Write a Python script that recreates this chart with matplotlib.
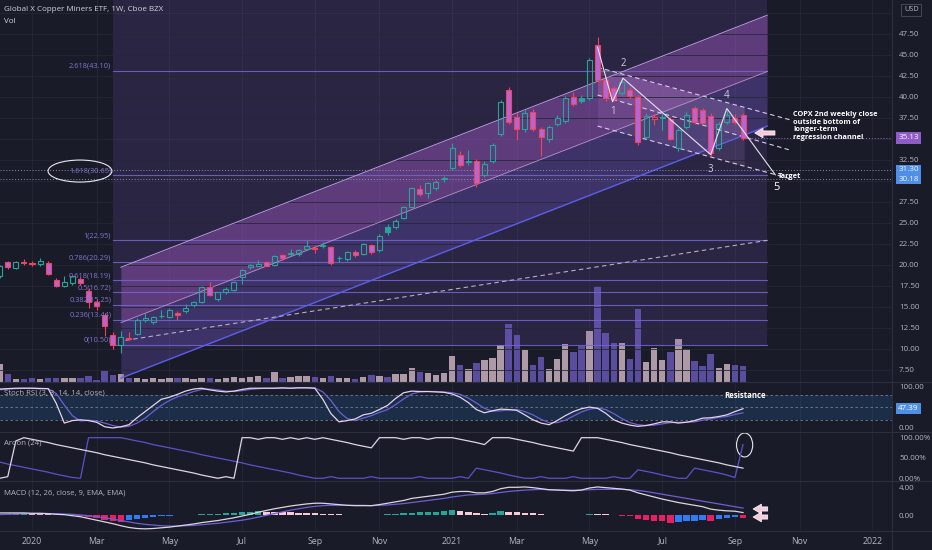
import matplotlib
matplotlib.use("Agg")
import matplotlib.pyplot as plt
from matplotlib.patches import Ellipse
from matplotlib.lines import Line2D
from matplotlib import transforms
import numpy as np
import pandas as pd

plt.rcParams["font.family"] = ["Open Sans", "DejaVu Sans"]

# ---- weekly bars, 2019-12-09 .. 2021-09-13 ----
first_bar = "2019-12-09"

opens = [18.6, 20.3, 19.6, 20.3, 20.2, 20.1, 20.2, 18.2, 17.5, 17.8,
         18.3, 16.9, 15.6, 14.0, 11.6, 10.4, 11.3, 11.75, 13.4, 13.2,
         13.85, 13.8, 14.3, 14.5, 15.2, 15.6, 17.4, 15.9, 16.7, 17.0,
         18.5, 19.7, 19.9, 20.3, 20.0, 21.1, 21.25, 21.3, 21.9, 22.0,
         22.2, 22.1, 20.75, 20.7, 21.5, 21.3, 22.3, 21.7, 24.5, 24.5,
         25.6, 26.9, 29.0, 28.5, 29.1, 30.2, 31.5, 33.1, 32.25, 32.4,
         30.7, 32.3, 35.6, 40.8, 37.6, 36.1, 38.2, 36.2, 35.0, 36.8,
         37.1, 40.0, 39.9, 39.8, 46.2, 42.0, 41.0, 40.4, 40.8, 40.0,
         35.2, 37.4, 37.45, 37.3, 33.9, 36.4, 38.6, 38.4, 37.7, 33.9,
         37.0, 37.5, 37.8]
highs = [20.0, 20.5, 20.4, 20.7, 20.4, 20.8, 20.4, 18.4, 18.6, 18.7,
         18.5, 17.2, 15.9, 14.3, 12.0, 12.1, 12.0, 13.6, 14.2, 13.9,
         14.6, 14.8, 14.5, 15.3, 15.7, 17.5, 17.9, 16.8, 17.3, 18.1,
         19.5, 20.1, 20.6, 20.5, 21.1, 21.3, 21.9, 21.9, 22.9, 22.4,
         22.7, 22.2, 21.0, 21.6, 21.7, 22.6, 22.5, 23.6, 24.8, 25.4,
         27.0, 29.3, 29.5, 29.9, 30.1, 30.6, 34.5, 33.5, 33.7, 32.6,
         32.3, 34.5, 39.6, 41.2, 38.0, 38.4, 38.5, 36.4, 36.6, 37.8,
         40.1, 40.6, 40.2, 44.6, 47.1, 42.5, 41.3, 42.3, 41.1, 40.2,
         38.0, 37.9, 38.0, 37.6, 36.3, 38.2, 38.9, 38.6, 38.0, 37.0,
         38.4, 37.9, 38.0]
lows = [18.4, 19.5, 19.5, 20.0, 19.9, 19.9, 18.8, 17.4, 17.3, 17.6,
        17.6, 14.8, 14.6, 11.5, 10.0, 9.5, 11.0, 11.6, 13.2, 12.9,
        13.6, 13.6, 13.4, 14.3, 15.0, 15.5, 16.3, 15.7, 16.5, 16.9,
        17.7, 19.5, 19.8, 19.8, 19.9, 20.6, 21.0, 21.0, 21.7, 21.4,
        22.0, 20.0, 20.3, 20.5, 20.9, 21.1, 21.3, 21.5, 23.5, 24.3,
        25.4, 26.7, 28.2, 27.9, 28.9, 29.9, 31.3, 31.6, 31.9, 29.2,
        30.5, 32.1, 35.3, 36.8, 34.9, 35.8, 35.9, 32.9, 34.6, 36.5,
        36.9, 38.9, 39.3, 39.6, 41.8, 39.5, 39.5, 40.2, 39.9, 34.3,
        35.0, 36.6, 36.0, 34.8, 33.5, 36.1, 36.8, 36.7, 32.9, 33.6,
        36.8, 36.8, 34.9]
closes = [19.8, 19.7, 20.3, 20.2, 20.1, 20.5, 18.9, 17.5, 17.9, 18.6,
          17.8, 15.6, 15.1, 12.7, 10.4, 11.4, 11.2, 13.4, 13.7, 13.8,
          13.95, 14.6, 14.0, 14.8, 15.6, 17.4, 16.4, 16.7, 17.1, 18.0,
          19.4, 19.95, 20.1, 19.9, 21.0, 20.8, 21.35, 21.8, 22.2, 21.9,
          22.4, 20.2, 20.85, 21.5, 21.1, 22.5, 21.5, 23.4, 23.9, 25.2,
          26.9, 29.1, 28.4, 29.7, 29.9, 30.35, 33.9, 31.9, 32.35, 29.7,
          32.0, 34.2, 39.4, 37.0, 36.2, 38.1, 36.1, 35.2, 36.4, 37.5,
          39.8, 39.1, 39.5, 44.4, 42.0, 39.8, 39.7, 41.8, 40.1, 34.6,
          37.7, 37.55, 37.55, 35.0, 36.0, 37.8, 37.0, 36.9, 33.3, 36.8,
          37.8, 37.0, 35.13]
volume_m = [1.8, 0.8, 0.3, 0.3, 0.4, 0.3, 0.4, 0.4, 0.4, 0.4,
            0.4, 0.6, 0.2, 1.1, 0.7, 0.8, 0.4, 0.4, 0.3, 0.4,
            0.3, 0.4, 0.4, 0.4, 0.3, 0.4, 0.4, 0.3, 0.4, 0.5,
            0.4, 0.5, 0.6, 0.4, 1.0, 0.4, 0.5, 0.6, 0.6, 0.5,
            0.4, 0.6, 0.4, 0.4, 0.3, 0.5, 0.7, 0.6, 0.5, 0.8,
            0.8, 1.4, 1.0, 0.9, 0.7, 0.9, 2.6, 1.7, 1.3, 1.9,
            2.2, 2.4, 3.7, 5.8, 4.7, 3.2, 1.7, 2.5, 1.3, 2.3,
            3.8, 3.0, 3.6, 5.1, 9.6, 4.9, 3.9, 3.9, 2.3, 7.3,
            2.0, 3.4, 2.2, 3.0, 4.3, 3.3, 2.1, 1.6, 2.8, 1.4,
            1.8, 1.7, 1.6]

stoch_k = [95, 96, 97, 97, 97, 96, 96, 60, 12, 18,
           20, 18, 14, 3, 0, 3, 8, 25, 40, 55,
           70, 75, 82, 90, 95, 97, 93, 90, 88, 90,
           94, 97, 97, 97, 97, 98, 97, 98, 98, 97,
           70, 35, 15, 18, 22, 32, 36, 45, 55, 72,
           86, 90, 89, 89, 88, 87, 83, 75, 62, 45,
           37, 42, 46, 45, 43, 32, 20, 12, 8, 18,
           30, 40, 47, 51, 48, 36, 20, 12, 7, 4,
           6, 10, 15, 15, 12, 14, 18, 24, 25, 28,
           32, 40, 47]
stoch_d = [93, 95, 96, 97, 97, 97, 96, 84, 56, 30,
           17, 19, 17, 12, 6, 2, 4, 12, 24, 40,
           55, 67, 76, 82, 89, 94, 95, 93, 90, 89,
           91, 94, 96, 97, 97, 97, 97, 98, 98, 98,
           88, 67, 40, 23, 18, 24, 30, 38, 45, 57,
           71, 83, 88, 89, 89, 88, 86, 82, 73, 61,
           48, 41, 42, 44, 45, 40, 32, 21, 13, 13,
           19, 29, 39, 46, 49, 45, 35, 23, 13, 8,
           6, 7, 10, 13, 14, 14, 15, 19, 22, 26,
           28, 33, 37]
aroon_up = [0, 4, 92, 100, 96, 92, 88, 83, 79, 75,
            71, 67, 63, 58, 54, 50, 46, 42, 38, 33,
            29, 25, 21, 17, 13, 8, 4, 0, 4, 0,
            100, 100, 96, 100, 100, 96, 100, 96, 100, 96,
            100, 96, 92, 88, 83, 79, 75, 100, 100, 100,
            96, 100, 100, 96, 100, 100, 100, 96, 92, 88,
            83, 100, 100, 100, 96, 92, 88, 83, 79, 75,
            71, 67, 100, 100, 100, 96, 92, 88, 83, 79,
            75, 71, 67, 63, 58, 54, 50, 46, 42, 38,
            33, 29, 25]
aroon_down = [40, 35, 31, 27, 23, 19, 15, 10, 6, 2,
              0, 100, 100, 100, 100, 100, 96, 92, 88, 83,
              79, 75, 71, 67, 63, 58, 54, 50, 46, 42,
              38, 33, 29, 25, 21, 17, 13, 8, 4, 0,
              0, 4, 0, 0, 0, 0, 4, 0, 0, 0,
              0, 0, 4, 0, 0, 0, 0, 4, 0, 25,
              21, 17, 13, 8, 4, 0, 0, 4, 0, 0,
              0, 4, 0, 0, 0, 0, 4, 0, 0, 21,
              17, 13, 8, 4, 0, 0, 25, 21, 17, 13,
              8, 2, 83]
macd_line = [0.3, 0.3, 0.3, 0.3, 0.25, 0.25, 0.2, 0.1, 0.05, -0.1,
             -0.25, -0.5, -0.75, -1.0, -1.25, -1.55, -1.8, -1.95, -2.0, -1.95,
             -1.85, -1.75, -1.6, -1.45, -1.3, -1.1, -0.95, -0.8, -0.6, -0.4,
             -0.15, 0.1, 0.4, 0.65, 0.9, 1.1, 1.3, 1.45, 1.6, 1.7,
             1.7, 1.6, 1.5, 1.4, 1.35, 1.35, 1.35, 1.5, 1.7, 1.9,
             2.1, 2.4, 2.55, 2.7, 2.85, 3.0, 3.3, 3.4, 3.4, 3.2,
             3.2, 3.4, 3.8, 4.0, 4.0, 4.05, 3.95, 3.8, 3.65, 3.6,
             3.55, 3.5, 3.6, 3.9, 4.05, 3.95, 3.85, 3.75, 3.6, 3.2,
             2.9, 2.6, 2.3, 2.05, 1.8, 1.6, 1.4, 1.2, 0.85, 0.7,
             0.6, 0.55, 0.35]
macd_signal = [0.05, 0.1, 0.15, 0.2, 0.2, 0.2, 0.2, 0.2, 0.15, 0.1,
               0.0, -0.1, -0.25, -0.4, -0.6, -0.8, -1.0, -1.2, -1.35, -1.45,
               -1.55, -1.6, -1.6, -1.55, -1.5, -1.4, -1.3, -1.2, -1.05, -0.9,
               -0.75, -0.55, -0.3, -0.05, 0.2, 0.45, 0.7, 0.9, 1.1, 1.25,
               1.35, 1.4, 1.4, 1.4, 1.4, 1.4, 1.35, 1.4, 1.45, 1.55,
               1.65, 1.8, 1.95, 2.1, 2.25, 2.4, 2.6, 2.75, 2.9, 2.95,
               3.0, 3.1, 3.25, 3.4, 3.5, 3.6, 3.65, 3.7, 3.65, 3.65,
               3.6, 3.6, 3.6, 3.65, 3.7, 3.7, 3.7, 3.7, 3.65, 3.55,
               3.4, 3.2, 3.0, 2.8, 2.6, 2.4, 2.2, 2.0, 1.8, 1.6,
               1.4, 1.2, 1.0]
macd_hist = [0.12, 0.16, 0.2, 0.22, 0.18, 0.15, 0.1, 0.05, 0.02, -0.05,
             -0.15, -0.3, -0.5, -0.7, -0.8, -0.95, -0.75, -0.6, -0.45, -0.3,
             -0.2, -0.1, -0.05, 0.03, 0.06, 0.1, 0.15, 0.2, 0.25, 0.35,
             0.45, 0.5, 0.6, 0.5, 0.45, 0.42, 0.4, 0.35, 0.3, 0.25,
             0.2, 0.12, 0.08, 0.03, -0.02, -0.03, 0.02, 0.05, 0.1, 0.15,
             0.25, 0.35, 0.4, 0.45, 0.5, 0.55, 0.7, 0.6, 0.5, 0.35,
             0.2, 0.3, 0.55, 0.5, 0.45, 0.35, 0.25, 0.1, 0.05, 0.03,
             0.02, -0.03, 0.0, 0.2, 0.15, 0.1, 0.05, -0.1, -0.15, -0.55,
             -0.75, -0.8, -0.85, -1.1, -1.05, -0.9, -0.8, -0.7, -0.85, -0.55,
             -0.45, -0.35, -0.45]

# ---- drawings ----
fib_ratios = ["0", "0.236", "0.382", "0.5", "0.618", "0.786", "1", "1.618", "2.618"]
fib_prices = [10.50, 13.44, 15.25, 16.72, 18.19, 20.29, 22.95, 30.65, 43.10]
fib_span = ["2020-03-16", "2021-10-04"]

channel_span = ["2020-03-23", "2021-10-04"]
channel_top = [19.7, 49.7]
channel_mid = [13.1, 43.0]
channel_bot = [6.5, 36.5]

trend_span = ["2020-03-27", "2021-10-04"]
trend_prices = [11.0, 22.9]

down_span = ["2021-05-10", "2021-10-25"]
down_fill_end = "2021-09-14"
down_top = [43.5, 37.2]
down_mid = [40.2, 33.6]
down_bot = [36.5, 30.2]

wave_dates = ["2021-05-10", "2021-05-23", "2021-06-01", "2021-08-16", "2021-08-30", "2021-10-11"]
wave_prices = [45.9, 39.4, 42.2, 33.1, 38.6, 30.7]
wave_names = ["1", "2", "3", "4"]
wave_name_dates = ["2021-05-23", "2021-06-01", "2021-08-16", "2021-08-30"]
wave_name_prices = [38.2, 44.0, 31.3, 40.1]

last_price = 35.13
level_lines = [31.30, 30.18]

# ---- colours ----
BG = "#1a1b29"
GRID = "#252838"
SEP = "#2c2f3d"
TXT = "#b2b5be"
TEAL = "#26a69a"
RED = "#f0445a"
DOWN_FILL = "#b565d6"
FIB = "#7466d0"

origin = pd.Timestamp("2020-01-06")


def wk(d):
    return (pd.Timestamp(d) - origin).days / 7


weeks = pd.date_range(first_bar, periods=len(closes), freq="W-MON")
xs = np.asarray((weeks - origin).days / 7, dtype=float)
o, h, l, c = (np.array(a, dtype=float) for a in (opens, highs, lows, closes))

W, H = 932, 550
fig = plt.figure(figsize=(W / 100, H / 100), dpi=100, facecolor=BG)


def box(top, bottom):
    return [0, 1 - bottom / H, 892 / W, (bottom - top) / H]


ax_v = fig.add_axes(box(0, 382))
ax = fig.add_axes(box(0, 382), sharex=ax_v)
ax_st = fig.add_axes(box(382, 432), sharex=ax_v)
ax_ar = fig.add_axes(box(432, 481), sharex=ax_v)
ax_md = fig.add_axes(box(481, 531), sharex=ax_v)

for a in (ax_v, ax, ax_st, ax_ar, ax_md):
    a.set_facecolor(BG)
    for s in a.spines.values():
        s.set_visible(False)
    a.tick_params(length=0, labelsize=5.8, labelcolor=TXT)
ax.patch.set_visible(False)
ax_v.set_yticks([])

ax.set_xlim(-3.96, 106.44)
ax.set_ylim(6.04, 51.51)
ax_v.set_ylim(0, 38.2)
ax_st.set_ylim(-9.8, 112.2)
ax_ar.set_ylim(-6.7, 114)
ax_md.set_ylim(-2.31, 4.91)

# month ticks at the first weekly bar of every other month
cal = pd.date_range(first_bar, "2022-02-28", freq="W-MON")
tick_x, tick_lab, seen = [], [], set()
for d in cal:
    if d.month % 2 == 1 and (d.year, d.month) not in seen:
        seen.add((d.year, d.month))
        tick_x.append(wk(d))
        tick_lab.append(str(d.year) if d.month == 1 else d.strftime("%b"))

for a in (ax_v, ax_st, ax_ar, ax_md):
    a.set_xticks(tick_x)
    a.grid(axis="x", color=GRID, lw=0.6)
    a.set_axisbelow(True)
for a in (ax_v, ax, ax_st, ax_ar):
    a.tick_params(labelbottom=False)
ax_md.set_xticklabels(tick_lab)
ax_md.tick_params(axis="x", labelsize=6.3, pad=4)

# price axis (50.00 sits under the USD badge, 30/35 under the price badges)
price_ticks = [p for p in np.arange(7.5, 47.6, 2.5) if p not in (30.0, 35.0)]
ax.yaxis.tick_right()
ax.set_yticks(price_ticks)
ax.set_yticklabels([f"{p:.2f}" for p in price_ticks])
ax.tick_params(axis="y", pad=5)
ax.grid(axis="y", color=GRID, lw=0.6)
for p in (30.0, 35.0, 50.0):
    ax.axhline(p, color=GRID, lw=0.6, zorder=0)

# volume
vol_col = np.where(c >= o, "#ad9aa6", "#5a4d9e")
ax_v.bar(xs, volume_m, width=0.8, color=vol_col, zorder=2)

# fib retracement
f0, f1 = wk(fib_span[0]), wk(fib_span[1])
ax.fill_between([f0, f1], fib_prices[0], 56, color="#7b5cc4", alpha=0.17, lw=0, zorder=1)
for r, p in zip(fib_ratios, fib_prices):
    ax.plot([f0, f1], [p, p], color=FIB, lw=0.8, alpha=0.85, zorder=2)
    ax.text(f0 - 0.2, p + 0.1, f"{r}({p:.2f})", color="#7f76cc", fontsize=5.3,
            ha="right", va="bottom", zorder=6)

# regression channel
c0, c1 = wk(channel_span[0]), wk(channel_span[1])
ax.fill_between([c0, c1], channel_mid, channel_top, color="#a85ccc", alpha=0.42, lw=0, zorder=1)
ax.fill_between([c0, c1], channel_bot, channel_mid, color="#6a52b8", alpha=0.32, lw=0, zorder=1)
ax.plot([c0, c1], channel_top, color="#b89adf", lw=0.7, zorder=2)
ax.plot([c0, c1], channel_mid, color="#c7a4e0", lw=0.6, alpha=0.8, zorder=2)
ax.plot([c0, c1], channel_bot, color="#5c5ee8", lw=1.0, zorder=2)
ax.plot([wk(trend_span[0]), wk(trend_span[1])], trend_prices, color="#b7adc8",
        lw=0.8, ls=(0, (4, 3)), zorder=3)

# down channel
d0, d1, df = wk(down_span[0]), wk(down_span[1]), wk(down_fill_end)
tops_f = [down_top[0], np.interp(df, [d0, d1], down_top)]
mids_f = [down_mid[0], np.interp(df, [d0, d1], down_mid)]
bots_f = [down_bot[0], np.interp(df, [d0, d1], down_bot)]
ax.fill_between([d0, df], mids_f, tops_f, color="#e0a8f0", alpha=0.2, lw=0, zorder=1)
ax.fill_between([d0, df], bots_f, mids_f, color="#c090e0", alpha=0.14, lw=0, zorder=1)
for line in (down_top, down_mid, down_bot):
    ax.plot([d0, d1], line, color="#d8cce8", lw=0.8, ls=(0, (4, 3)), zorder=3)

# price lines
ax.plot([xs[-1], 107], [last_price, last_price], color="#9c6ad0", lw=0.7, ls=(0, (1, 2)), zorder=3)
for p in level_lines:
    ax.axhline(p, color="#8f93b0", lw=0.7, ls=(0, (1, 2)), zorder=3)

# candles
prev_c = np.r_[o[0], c[:-1]]
edge = np.where(c >= prev_c, TEAL, RED)
face = np.where(c >= o, "none", np.where(c >= prev_c, TEAL, DOWN_FILL))
body_lo, body_hi = np.minimum(o, c), np.maximum(o, c)
ax.vlines(xs, l, body_lo, color=edge, lw=0.8, zorder=4)
ax.vlines(xs, body_hi, h, color=edge, lw=0.8, zorder=4)
ax.bar(xs, np.maximum(body_hi - body_lo, 0.06), bottom=body_lo, width=0.62,
       color=face, edgecolor=edge, lw=0.8, zorder=5)

# elliott wave
ax.plot([wk(d) for d in wave_dates], wave_prices, color="#e6e2ee", lw=0.8, zorder=6)
for n, d, p in zip(wave_names, wave_name_dates, wave_name_prices):
    ax.text(wk(d), p, n, color="#cfcbe0", fontsize=7, ha="center", va="center", zorder=7)
ax.text(wk("2021-10-11") + 0.2, 29.25, "5", color="white", fontsize=8, ha="center",
        va="center", zorder=7)
ax.text(wk("2021-10-11") + 0.3, 30.55, "Target", color="white", fontsize=5.3,
        fontweight="bold", ha="left", va="center", zorder=7)
ax.text(wk("2021-10-25") + 0.2, 38.3,
        "COPX 2nd weekly close\noutside bottom of\nlonger-term\nregression channel",
        color="white", fontsize=5.3, fontweight="bold", ha="left", va="top",
        linespacing=1.15, zorder=7)
ax.annotate("", xy=(wk("2021-09-20") + 0.1, 35.68), xytext=(wk("2021-10-11") + 0.3, 35.68),
            arrowprops=dict(arrowstyle="simple,head_width=0.7,head_length=0.6,tail_width=0.3",
                            fc="#f6cadb", ec="white", lw=0.5), zorder=7)
ax.add_patch(Ellipse((5.94, 31.15), 7.9, 2.62, fill=False, ec="#e8e8ee", lw=0.8, zorder=7))

# axis label boxes
blend = transforms.blended_transform_factory(ax.transAxes, ax.transData)
ax.text(1.007, last_price, f"{last_price:.2f}", transform=blend, color="white", fontsize=5.8,
        va="center", ha="left", clip_on=False,
        bbox=dict(boxstyle="square,pad=0.3", fc="#8e5bc9", ec="none"))
for p in level_lines:
    ax.text(1.007, p, f"{p:.2f}", transform=blend, color="#eef3ff", fontsize=5.8,
            va="center", ha="left", clip_on=False,
            bbox=dict(boxstyle="square,pad=0.22", fc="#4f8fe6", ec="none"))
ax.text(1.0135, 0.974, "USD", transform=ax.transAxes, color=TXT, fontsize=5.3, va="center",
        ha="left", clip_on=False, zorder=8,
        bbox=dict(boxstyle="square,pad=0.35", fc=BG, ec="#4a4e5c", lw=0.6))

ax.text(0.005, 0.974, "Global X Copper Miners ETF, 1W, Cboe BZX", transform=ax.transAxes,
        color="#d1d4dc", fontsize=5.8, va="center")
ax.text(0.005, 0.945, "Vol", transform=ax.transAxes, color="#d1d4dc", fontsize=5.8, va="center")

# stoch rsi
ax_st.axhspan(20, 80, color="#2196f3", alpha=0.15, lw=0)
for lv in (80, 50, 20):
    ax_st.axhline(lv, color="#787b86", lw=0.6, ls=(0, (3, 3)))
ax_st.plot(xs, stoch_d, color="#6d5fd6", lw=0.9)
ax_st.plot(xs, stoch_k, color="#e6d3ec", lw=0.9)
ax_st.yaxis.tick_right()
ax_st.set_yticks([0, 100])
ax_st.set_yticklabels(["0.00", "100.00"])
ax_st.tick_params(axis="y", pad=5)
bst = transforms.blended_transform_factory(ax_st.transAxes, ax_st.transData)
ax_st.text(1.007, 47.39, "47.39", transform=bst, color="white", fontsize=5.8, va="center",
           ha="left", clip_on=False, bbox=dict(boxstyle="square,pad=0.3", fc="#4f8fe6", ec="none"))
ax_st.text(0.005, 0.78, "Stoch RSI (3, 3, 14, 14, close)", transform=ax_st.transAxes,
           color=TXT, fontsize=5.6, va="center")
ax_st.text(wk("2021-09-13") + 0.3, 80, "Resistance", color="white", fontsize=5.6,
           fontweight="bold", ha="center", va="center")

# aroon
ax_ar.plot(xs, aroon_down, color="#5a52c8", lw=0.9)
ax_ar.plot(xs, aroon_up, color="#ddd6e6", lw=0.9)
ax_ar.yaxis.tick_right()
ax_ar.set_yticks([0, 50, 100])
ax_ar.set_yticklabels(["0.00%", "50.00%", "100.00%"])
ax_ar.tick_params(axis="y", pad=5)
ax_ar.text(0.005, 0.775, "Aroon (24)", transform=ax_ar.transAxes, color=TXT, fontsize=5.6,
           va="center")
ax_ar.add_patch(Ellipse((88.2, 82), 2.0, 59, fill=False, ec="#e8e8ee", lw=0.8))

# macd
hist = np.array(macd_hist)
prev_h = np.r_[0.0, hist[:-1]]
hist_col = np.where(hist >= 0, np.where(hist >= prev_h, TEAL, "#f8cbd8"),
                    np.where(hist < prev_h, "#e91e63", "#2f7cf6"))
ax_md.bar(xs, hist, width=0.8, color=hist_col)
ax_md.plot(xs, macd_signal, color="#6d5fd6", lw=0.9)
ax_md.plot(xs, macd_line, color="#ddd6e0", lw=0.9)
ax_md.yaxis.tick_right()
ax_md.set_yticks([0, 4])
ax_md.set_yticklabels(["0.00", "4.00"])
ax_md.tick_params(axis="y", pad=5)
ax_md.text(0.005, 0.76, "MACD (12, 26, close, 9, EMA, EMA)", transform=ax_md.transAxes,
           color=TXT, fontsize=5.6, va="center")
for yv in (0.87, -0.29):
    ax_md.annotate("", xy=(88.9, yv), xytext=(91.4, yv),
                   arrowprops=dict(arrowstyle="simple,head_width=0.7,head_length=0.6,tail_width=0.3",
                                   fc="#f6cadb", ec="white", lw=0.5))

# pane separators
for yp in (382, 432, 481, 531):
    fig.add_artist(Line2D([0, 1], [1 - yp / H] * 2, transform=fig.transFigure, color=SEP, lw=0.8))
fig.add_artist(Line2D([892 / W] * 2, [0, 1], transform=fig.transFigure, color=SEP, lw=0.8))

fig.savefig("out.png", dpi=100, facecolor=BG)
